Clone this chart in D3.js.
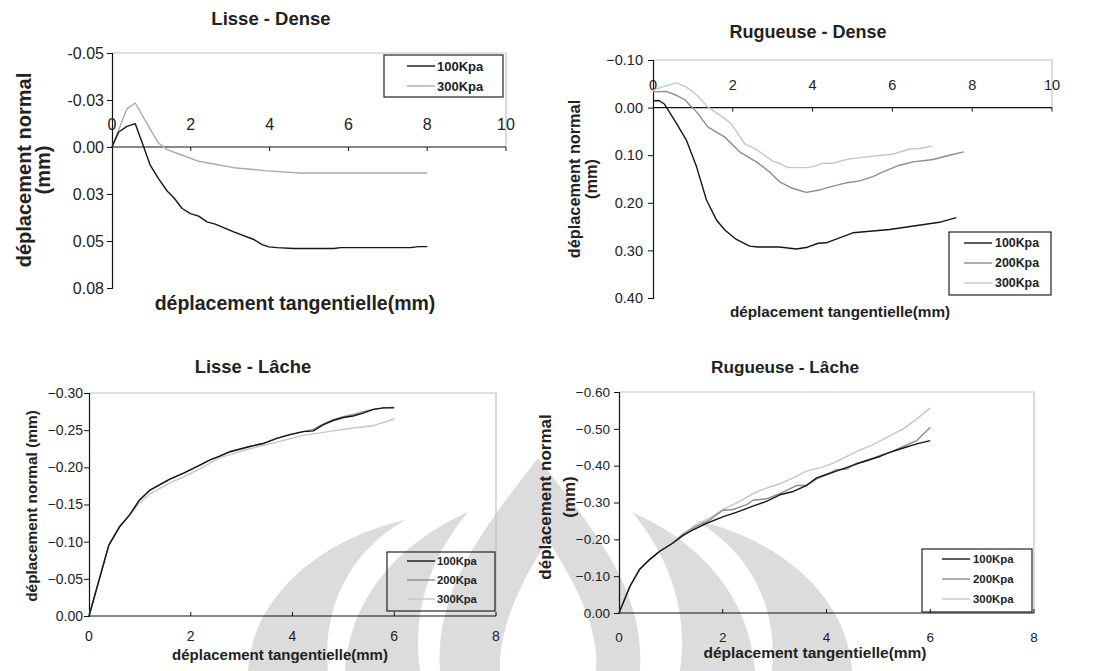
<!DOCTYPE html>
<html>
<head>
<meta charset="utf-8">
<script src="https://cdn.jsdelivr.net/npm/d3@7/dist/d3.min.js"></script>
<style>
  body { margin: 0; background: #fff; }
  text { font-family: Arial, "Liberation Sans", sans-serif; fill: #222; }
</style>
</head>
<body>
<svg id="chart" width="1095" height="671"></svg>
<script>
// ---- data ----
var seriesNames = ["100Kpa", "200Kpa", "300Kpa"];

// Lisse - Dense
var lisseDense100 = [[0,0],[0.17,-0.008],[0.38,-0.011],[0.59,-0.0124],[0.76,-0.0027],[0.97,0.0097],[1.18,0.0168],[1.40,0.0234],[1.57,0.027],[1.78,0.0327],[1.99,0.0354],[2.2,0.0368],[2.41,0.0398],[2.62,0.041],[3.09,0.0451],[3.6,0.0492],[3.81,0.0519],[3.98,0.0531],[4.19,0.0535],[4.61,0.054],[5.63,0.054],[5.8,0.0535],[7.57,0.0535],[7.78,0.053],[8.0,0.053]];
var lisseDense300 = [[0,0],[0.38,-0.0204],[0.59,-0.0234],[0.89,-0.0124],[1.18,-0.0021],[1.4,0.0014],[1.78,0.0044],[2.2,0.0076],[2.62,0.0092],[3.09,0.011],[3.6,0.012],[3.93,0.0127],[4.78,0.0138],[8,0.0138]];

// Rugueuse - Dense
var rugDense100 = [[0,-0.014],[0.15,-0.015],[0.29,-0.007],[0.58,0.032],[0.84,0.069],[1.09,0.124],[1.34,0.194],[1.59,0.236],[1.8,0.257],[2.09,0.277],[2.42,0.291],[2.63,0.293],[3.17,0.293],[3.59,0.297],[3.84,0.294],[4.14,0.285],[4.34,0.284],[5.01,0.263],[5.93,0.256],[7.18,0.241],[7.6,0.231]];
var rugDense200 = [[0,-0.033],[0.33,-0.034],[0.58,-0.026],[0.79,-0.017],[1.09,0.009],[1.38,0.041],[1.8,0.062],[2.17,0.093],[2.59,0.114],[2.92,0.135],[3.17,0.156],[3.51,0.17],[3.84,0.178],[4.18,0.173],[4.51,0.165],[4.85,0.158],[5.18,0.154],[5.51,0.145],[5.76,0.135],[6.18,0.121],[6.52,0.114],[7.02,0.109],[7.43,0.1],[7.79,0.093]];
var rugDense300 = [[0,-0.036],[0.33,-0.046],[0.58,-0.052],[0.84,-0.043],[1.09,-0.027],[1.38,-0.001],[1.75,0.02],[1.96,0.034],[2.3,0.076],[2.59,0.088],[3.01,0.113],[3.17,0.117],[3.38,0.126],[3.84,0.126],[4.01,0.124],[4.26,0.117],[4.51,0.117],[4.85,0.109],[5.18,0.105],[5.51,0.102],[6.01,0.098],[6.43,0.087],[6.68,0.086],[7.0,0.081]];

// Lisse - Lache
var lisseLache100 = [[0,0],[0.39,-0.0954],[0.6,-0.12],[0.8,-0.136],[0.98,-0.155],[1.19,-0.169],[1.59,-0.184],[1.85,-0.192],[2.18,-0.203],[2.38,-0.21],[2.57,-0.215],[2.77,-0.221],[3.16,-0.228],[3.42,-0.232],[3.69,-0.239],[3.95,-0.244],[4.21,-0.248],[4.41,-0.249],[4.6,-0.257],[4.8,-0.263],[5.0,-0.267],[5.19,-0.269],[5.39,-0.273],[5.59,-0.278],[5.79,-0.28],[6.0,-0.28]];
var lisseLache200 = [[0,0],[0.39,-0.0954],[0.6,-0.12],[0.8,-0.136],[0.98,-0.155],[1.19,-0.169],[1.59,-0.184],[1.85,-0.192],[2.18,-0.203],[2.38,-0.21],[2.57,-0.215],[2.77,-0.221],[3.16,-0.228],[3.42,-0.232],[3.69,-0.239],[3.95,-0.244],[4.21,-0.248],[4.41,-0.251],[4.6,-0.258],[4.8,-0.264],[5.0,-0.268],[5.19,-0.271],[5.39,-0.275],[5.59,-0.278],[5.79,-0.28],[6.0,-0.281]];
var lisseLache300 = [[0,0],[0.39,-0.0954],[0.6,-0.12],[0.8,-0.136],[0.98,-0.151],[1.19,-0.164],[1.59,-0.179],[1.85,-0.187],[2.18,-0.198],[2.57,-0.213],[3.16,-0.225],[3.69,-0.234],[4.21,-0.243],[4.41,-0.245],[4.8,-0.249],[5.19,-0.253],[5.59,-0.256],[6.0,-0.265]];

// Rugueuse - Lache
var rugLache100 = [[0,0],[0.21,-0.072],[0.4,-0.119],[0.59,-0.145],[0.78,-0.167],[1.04,-0.19],[1.23,-0.21],[1.43,-0.226],[1.68,-0.243],[2.0,-0.261],[2.26,-0.273],[2.58,-0.29],[2.84,-0.303],[3.1,-0.321],[3.36,-0.33],[3.61,-0.346],[3.81,-0.367],[4.0,-0.376],[4.19,-0.385],[4.45,-0.398],[4.77,-0.414],[5.03,-0.425],[5.22,-0.436],[5.48,-0.448],[5.74,-0.459],[6.0,-0.468]];
var rugLache200 = [[0,0],[0.21,-0.072],[0.4,-0.119],[0.59,-0.145],[0.78,-0.167],[1.04,-0.19],[1.23,-0.213],[1.49,-0.235],[1.75,-0.253],[2.0,-0.279],[2.2,-0.281],[2.46,-0.294],[2.58,-0.306],[2.84,-0.31],[3.1,-0.324],[3.42,-0.346],[3.61,-0.346],[3.81,-0.364],[4.0,-0.376],[4.19,-0.389],[4.39,-0.391],[4.58,-0.407],[4.77,-0.412],[5.03,-0.428],[5.22,-0.436],[5.48,-0.452],[5.74,-0.468],[6.0,-0.504]];
var rugLache300 = [[0,0],[0.21,-0.074],[0.4,-0.121],[0.59,-0.145],[0.78,-0.168],[1.04,-0.192],[1.23,-0.215],[1.49,-0.24],[1.75,-0.258],[2.0,-0.281],[2.33,-0.303],[2.58,-0.324],[2.84,-0.339],[3.1,-0.351],[3.36,-0.367],[3.61,-0.385],[3.87,-0.394],[4.13,-0.407],[4.39,-0.425],[4.64,-0.442],[4.9,-0.457],[5.22,-0.481],[5.48,-0.5],[5.74,-0.527],[6.0,-0.557]];

// tick values and labels
var xTicksDense = [0, 2, 4, 6, 8, 10];
var xTicksLache = [0, 2, 4, 6, 8];
var yTicksLisseDense = [-0.05, -0.025, 0, 0.025, 0.05, 0.075];
var yLabelsLisseDense = ["-0.05", "-0.03", "0.00", "0.03", "0.05", "0.08"];
var yTicksRugDense = [-0.1, 0, 0.1, 0.2, 0.3, 0.4];
var yTicksLisseLache = [-0.3, -0.25, -0.2, -0.15, -0.1, -0.05, 0];
var yTicksRugLache = [-0.6, -0.5, -0.4, -0.3, -0.2, -0.1, 0];

var svg = d3.select("#chart");
var colors = ["#151515", "#8c8c8c", "#c6c6c6"];
var borderColor = "#c4c4c4";

// faint watermark emblem behind the lower charts (rough shapes)
var wm = svg.append("g").attr("fill", "#dcdcdc");
[
    // outer crescents
    "M248,671 C252,598 318,540 405,520 C350,552 322,606 328,671 Z",
    "M852,671 C848,598 782,540 695,520 C750,552 778,606 772,671 Z",
    // inner leaves
    "M345,671 C350,600 395,545 468,512 C428,560 412,615 420,671 Z",
    "M755,671 C750,600 705,545 632,512 C672,560 688,615 680,671 Z",
    // central flame
    "M538,458 C585,520 646,585 640,671 L440,671 C434,585 491,520 538,458 Z"
].forEach(function(d) { wm.append("path").attr("d", d); });
wm.append("path").attr("fill", "#fff")
    .attr("d", "M548,540 C570,575 600,625 596,671 L500,671 C498,625 525,575 548,540 Z");

var panels = [
    {
        title: "Lisse - Dense", titleX: 271, titleY: 25, titleFs: 18.5,
        l: 112, r: 506, t: 53, b: 288,
        xDomain: [0, 10], xTicks: xTicksDense, yDomain: [-0.05, 0.075],
        yTicks: yTicksLisseDense, yLabels: yLabelsLisseDense,
        axisAtZero: true, xLabelY: 124, tickFs: 16, yLabelRight: 104,
        yTitle: ["déplacement normal", "(mm)"], yTitleX: [31, 50], yTitleY: 170, yTitleFs: 20,
        xTitleX: 295, xTitleY: 310, xTitleFs: 19.5,
        series: [lisseDense100, lisseDense300], names: ["100Kpa", "300Kpa"],
        colors: ["#151515", "#ababab"],
        legend: { x0: 384, y0: 55, x1: 503, y1: 97, lx0: 407, lx1: 435, tx: 437, rows: [66, 86], fs: 13 }
    },
    {
        title: "Rugueuse - Dense", titleX: 808, titleY: 38, titleFs: 18,
        l: 653, r: 1052, t: 60, b: 298,
        xDomain: [0, 10], xTicks: xTicksDense, yDomain: [-0.1, 0.4],
        yTicks: yTicksRugDense, yLabels: null,
        axisAtZero: true, xLabelY: 85, tickFs: 14.5, yLabelRight: 643,
        yTitle: ["déplacement normal", "(mm)"], yTitleX: [580, 597], yTitleY: 179, yTitleFs: 16.3,
        xTitleX: 840, xTitleY: 317, xTitleFs: 15.3,
        series: [rugDense100, rugDense200, rugDense300], names: seriesNames,
        colors: colors,
        legend: { x0: 949, y0: 232, x1: 1051, y1: 295, lx0: 964, lx1: 992, tx: 995, rows: [243, 263, 283], fs: 12.4 }
    },
    {
        title: "Lisse - Lâche", titleX: 253, titleY: 373, titleFs: 18.4,
        l: 89, r: 496, t: 393, b: 616,
        xDomain: [0, 8], xTicks: xTicksLache, yDomain: [-0.3, 0],
        yTicks: yTicksLisseLache, yLabels: null,
        axisAtZero: false, xLabelY: 636, tickFs: 14, yLabelRight: 83,
        yTitle: ["déplacement normal (mm)"], yTitleX: [37], yTitleY: 506, yTitleFs: 15.4,
        xTitleX: 280, xTitleY: 660, xTitleFs: 15,
        series: [lisseLache100, lisseLache200, lisseLache300], names: seriesNames,
        colors: colors,
        legend: { x0: 387, y0: 552, x1: 495, y1: 611, lx0: 407, lx1: 435, tx: 437, rows: [561, 580, 599], fs: 11.2 }
    },
    {
        title: "Rugueuse - Lâche", titleX: 785, titleY: 373, titleFs: 17.2,
        l: 619, r: 1034, t: 392, b: 613,
        xDomain: [0, 8], xTicks: xTicksLache, yDomain: [-0.6, 0],
        yTicks: yTicksRugLache, yLabels: null,
        axisAtZero: false, xLabelY: 637, tickFs: 13.5, yLabelRight: 610,
        yTitle: ["déplacement normal", "(mm)"], yTitleX: [551, 575], yTitleY: 497, yTitleFs: 17,
        xTitleX: 815, xTitleY: 658, xTitleFs: 15.5,
        series: [rugLache100, rugLache200, rugLache300], names: seriesNames,
        colors: colors,
        legend: { x0: 922, y0: 549, x1: 1032, y1: 612, lx0: 942, lx1: 970, tx: 973, rows: [559, 579, 599], fs: 11.4 }
    }
];

panels.forEach(drawPanel);

function drawPanel(p) {
    var x = d3.scaleLinear().domain(p.xDomain).range([p.l, p.r]);
    var y = d3.scaleLinear().domain(p.yDomain).range([p.t, p.b]);
    var g = svg.append("g");
    var xAxisY = p.axisAtZero ? y(0) : p.b;

    // plot area border (top + right), light grey
    g.append("path")
        .attr("d", "M" + p.l + "," + p.t + "H" + p.r + "V" + xAxisY)
        .attr("fill", "none")
        .attr("stroke", borderColor)
        .attr("stroke-width", 1.2);

    // y axis
    var yAxis = d3.axisLeft(y).tickValues(p.yTicks).tickSize(5).tickPadding(p.l - p.yLabelRight - 5)
        .tickFormat(function(d, i) { return p.yLabels ? p.yLabels[i] : d3.format(".2f")(d); });
    var ya = g.append("g").attr("transform", "translate(" + p.l + ",0)").call(yAxis);
    ya.select(".domain").attr("stroke", "#111").attr("stroke-width", 1.2);
    ya.selectAll(".tick line").attr("stroke", "#111");
    ya.selectAll(".tick text").style("font-size", p.tickFs + "px").attr("fill", "#2a2a2a")
        .style("font-family", "Arial, 'Liberation Sans', sans-serif");

    // x axis
    var xa = g.append("g").attr("transform", "translate(0," + xAxisY + ")");
    xa.append("line").attr("x1", p.l).attr("x2", p.r).attr("stroke", "#111").attr("stroke-width", 1.2);
    xa.selectAll(".xt").data(p.xTicks.filter(function(d) { return d > 0; }))
        .enter().append("line")
        .attr("x1", function(d) { return x(d); }).attr("x2", function(d) { return x(d); })
        .attr("y1", 0).attr("y2", p.axisAtZero ? 4 : -4)
        .attr("stroke", "#111");
    g.selectAll(".xl").data(p.xTicks).enter().append("text")
        .attr("x", function(d) { return x(d); })
        .attr("y", p.xLabelY)
        .attr("text-anchor", "middle")
        .attr("dominant-baseline", "central")
        .style("font-size", p.tickFs + "px")
        .attr("fill", "#2a2a2a")
        .text(function(d) { return d; });

    // series
    var line = d3.line().x(function(d) { return x(d[0]); }).y(function(d) { return y(d[1]); });
    // draw lighter ones first so the dark line sits on top
    for (var i = p.series.length - 1; i >= 0; i--) {
        g.append("path")
            .datum(p.series[i])
            .attr("d", line)
            .attr("fill", "none")
            .attr("stroke", p.colors[i])
            .attr("stroke-width", 1.4)
            .attr("stroke-linejoin", "round");
    }

    // legend
    var lg = p.legend;
    g.append("rect")
        .attr("x", lg.x0).attr("y", lg.y0)
        .attr("width", lg.x1 - lg.x0).attr("height", lg.y1 - lg.y0)
        .attr("fill", "none").attr("stroke", "#222").attr("stroke-width", 1.2);
    p.names.forEach(function(n, i) {
        g.append("line")
            .attr("x1", lg.lx0).attr("x2", lg.lx1)
            .attr("y1", lg.rows[i]).attr("y2", lg.rows[i])
            .attr("stroke", p.colors[i]).attr("stroke-width", 1.4);
        g.append("text")
            .attr("x", lg.tx).attr("y", lg.rows[i])
            .attr("dominant-baseline", "central")
            .style("font-size", lg.fs + "px").style("font-weight", "bold")
            .text(n);
    });

    // titles
    g.append("text")
        .attr("x", p.titleX).attr("y", p.titleY)
        .attr("text-anchor", "middle")
        .style("font-size", p.titleFs + "px").style("font-weight", "bold")
        .text(p.title);
    g.append("text")
        .attr("x", p.xTitleX).attr("y", p.xTitleY)
        .attr("text-anchor", "middle")
        .style("font-size", p.xTitleFs + "px").style("font-weight", "bold")
        .text("déplacement tangentielle(mm)");
    p.yTitle.forEach(function(t, i) {
        g.append("text")
            .attr("transform", "translate(" + p.yTitleX[i] + "," + p.yTitleY + ") rotate(-90)")
            .attr("text-anchor", "middle")
            .style("font-size", p.yTitleFs + "px").style("font-weight", "bold")
            .text(t);
    });
}
</script>
</body>
</html>
